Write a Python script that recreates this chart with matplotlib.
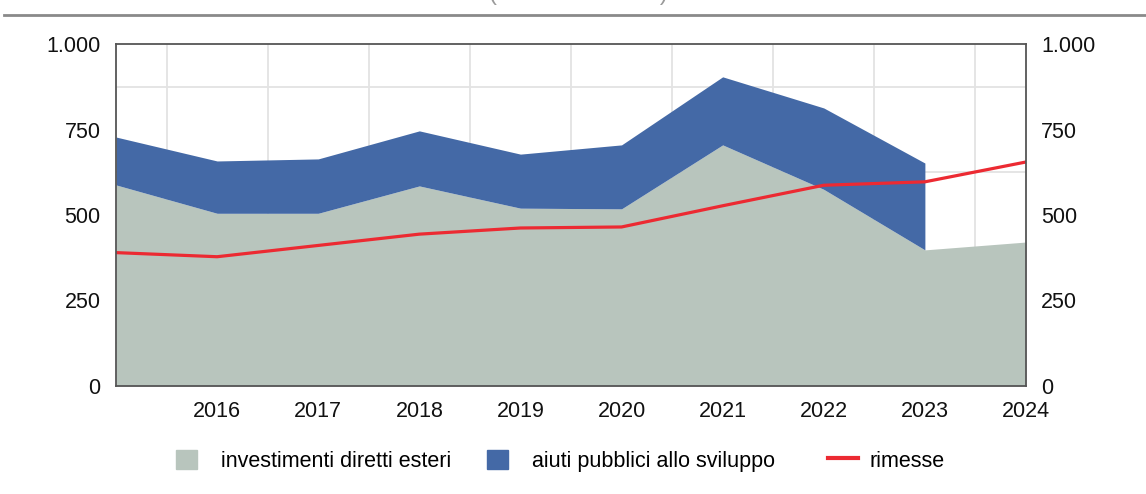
import numpy as np
import matplotlib.pyplot as plt
from matplotlib.ticker import FuncFormatter, MultipleLocator, FixedLocator
from matplotlib.patches import Patch
from matplotlib.lines import Line2D

plt.rcParams['font.family'] = ['Liberation Sans', 'DejaVu Sans']

# data
years = [2015, 2016, 2017, 2018, 2019, 2020, 2021, 2022, 2023, 2024]
ide = [588, 505, 505, 585, 520, 518, 705, 575, 398, 421]          # investimenti diretti esteri
aps = [140, 153, 159, 161, 158, 187, 199, 238, 254, np.nan]       # aiuti pubblici allo sviluppo
rimesse = [390, 378, 411, 444, 462, 465, 527, 587, 597, 655]
tick_years = [2016, 2017, 2018, 2019, 2020, 2021, 2022, 2023, 2024]

col_ide = "#b8c5bd"
col_aps = "#4469a6"
col_rim = "#ec2a32"

fig = plt.figure(figsize=(11.46, 4.94), dpi=100)
ax = fig.add_axes([116/1146, 108/494, 910/1146, 342/494])

yrs = np.array(years, dtype=float)
ide_a = np.array(ide, dtype=float)
aps_a = np.array(aps, dtype=float)
ok = ~np.isnan(aps_a)

ax.fill_between(yrs, 0, ide_a, color=col_ide, lw=0, zorder=2)
ax.fill_between(yrs[ok], ide_a[ok], ide_a[ok] + aps_a[ok], color=col_aps, lw=0, zorder=2)
ax.plot(yrs, rimesse, color=col_rim, lw=2.3, zorder=3, solid_joinstyle="round")

ax.set_xlim(2015, 2024)
ax.set_ylim(0, 1000)
ax.xaxis.set_major_locator(FixedLocator(tick_years))
ax.xaxis.set_minor_locator(FixedLocator([y + 0.5 for y in years[:-1]]))
ax.yaxis.set_major_locator(MultipleLocator(250))
ax.yaxis.set_minor_locator(MultipleLocator(125))
fmt = FuncFormatter(lambda v, p: f"{int(v):,}".replace(",", "."))
ax.yaxis.set_major_formatter(fmt)
ax.grid(True, which="minor", color="#e3e3e3", lw=1.3, zorder=1)
ax.grid(False, which="major")
ax.tick_params(which="both", length=0, labelsize=15.5, colors="#111111")
ax.tick_params(axis="x", pad=11)
ax.tick_params(axis="y", pad=11)
ax.tick_params(axis="y", labelright=True)
for s in ax.spines.values():
    s.set_color("#555555")
    s.set_linewidth(1.3)
    s.set_zorder(4)

# cropped heading + rule at the top
fig.text(0.505, 1.012, "(milioni di dollari)", ha="center", va="center",
         fontsize=17, color="#9a9a9a")
fig.add_artist(Line2D([4/1146, 1.0], [1 - 15/494, 1 - 15/494],
                      color="#8a8a8a", lw=2))

# legend: three entries placed like the reference
leg_y = 1 - 461/494
entries = [
    (Patch(color=col_ide), "investimenti diretti esteri", 176),
    (Patch(color=col_aps), "aiuti pubblici allo sviluppo", 487),
    (Line2D([], [], color=col_rim, lw=3), "rimesse", 828),
]
for h, lab, x0 in entries:
    is_line = isinstance(h, Line2D)
    fig.legend([h], [lab], loc="center left", bbox_to_anchor=(x0/1146, leg_y),
               frameon=False, fontsize=15.5, borderpad=0, borderaxespad=0,
               handlelength=1.4 if is_line else 0.97, handleheight=0.95,
               handletextpad=0.55 if is_line else 1.1)

fig.savefig("out.png", dpi=100)
